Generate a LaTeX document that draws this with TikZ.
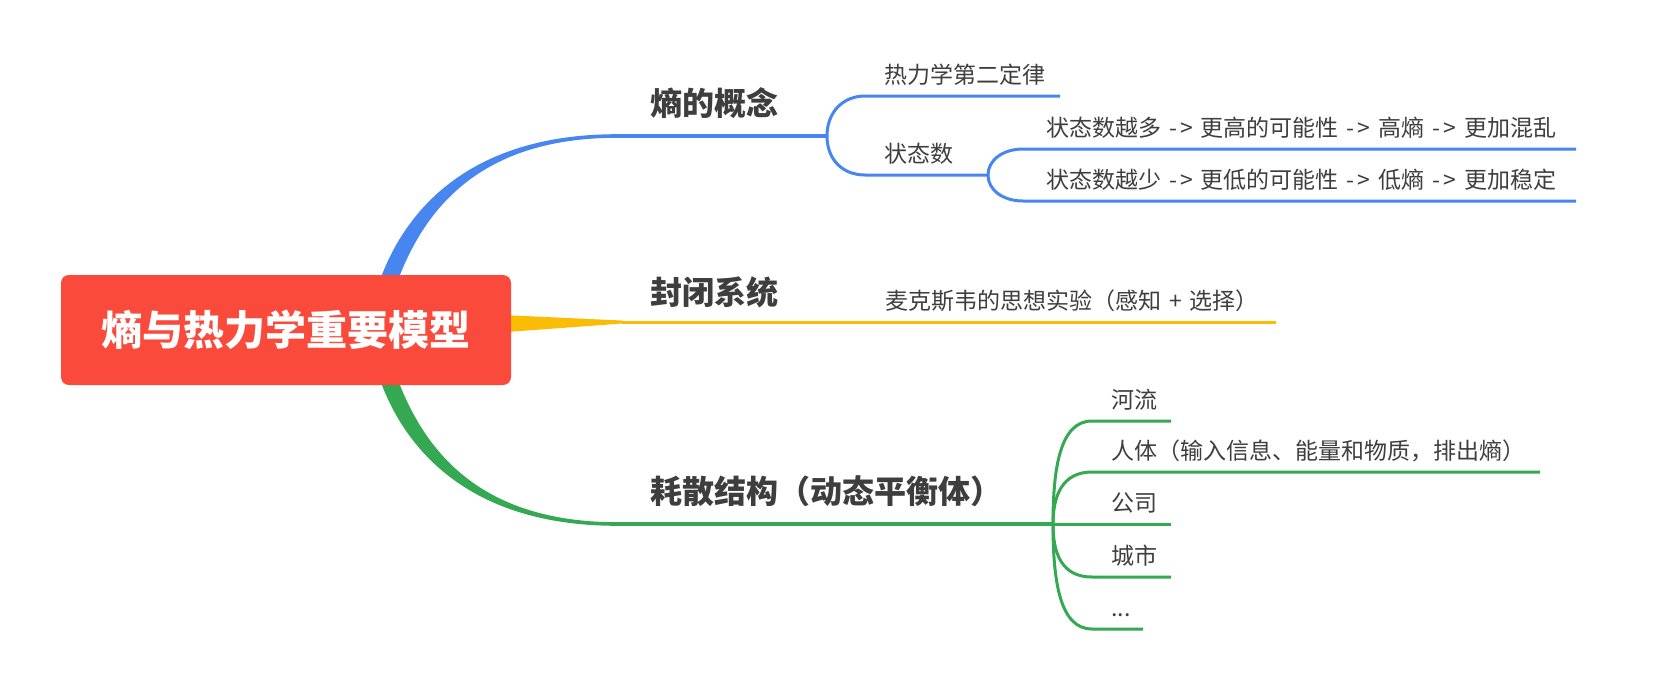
\documentclass[tikz,border=0pt]{standalone}
\usepackage{fontspec}
\setmainfont{Noto Sans CJK SC}
\usepackage{tikz}
\definecolor{rootred}{HTML}{FA4A3C}
\definecolor{mapblue}{HTML}{4786EE}
\definecolor{mapyellow}{HTML}{FBBC05}
\definecolor{mapgreen}{HTML}{34A853}
\definecolor{textgray}{HTML}{3E3E3E}
\newcommand\leafspacing{\spaceskip=8pt\relax}
\newcommand\thento{-\kern3pt>}
\tikzset{root/.style={fill=rootred,rounded corners=8pt,text=white,inner sep=0pt,
minimum width=450pt,minimum height=110pt,font=\bfseries\fontsize{41}{48}\selectfont},
topic/.style={anchor=base west,inner sep=0pt,text=textgray,font=\bfseries\fontsize{32}{38}\selectfont},
leaf/.style={anchor=base west,inner sep=0pt,text=textgray,font=\fontsize{23}{28}\selectfont\leafspacing},
twig/.style={line width=3pt}}

\begin{document}
\begin{tikzpicture}[x=1pt,y=-1pt]
    \useasboundingbox (0,0) rectangle (1654,686);

    % Tapered branches out of the root
    \fill[mapblue] (380,280) .. controls (408,203) and (477,134.2) .. (617,134.2)
        -- (617,137.8) .. controls (480,137.8) and (425,209) .. (398,280) -- cycle;
    \fill[mapyellow] (480,314) -- (622,320.5) -- (622,323.5) -- (480,334) -- cycle;
    \fill[mapgreen] (380,380) .. controls (408,457) and (477,525.8) .. (617,525.8)
        -- (617,522.2) .. controls (480,522.2) and (425,451) .. (398,380) -- cycle;

    % Root
    \node[root] (root) at (286,330) {熵与热力学重要模型};

    % Fork points and line ends
    \coordinate (b0) at (617,136);   \coordinate (bf) at (827,136);
    \coordinate (b1) at (865,96);    \coordinate (b1e) at (1060,96);
    \coordinate (b2) at (865,175);   \coordinate (b2f) at (988,175);
    \coordinate (b21) at (1023,149); \coordinate (b21e) at (1576,149);
    \coordinate (b22) at (1023,201); \coordinate (b22e) at (1576,201);
    \coordinate (y0) at (622,322);   \coordinate (y0e) at (1276,322);
    \coordinate (g0) at (617,524);   \coordinate (gf) at (1053,524);
    \coordinate (g1) at (1092,421);  \coordinate (g1e) at (1171,421);
    \coordinate (g2) at (1092,472);  \coordinate (g2e) at (1540,472);
    \coordinate (g3e) at (1171,524);
    \coordinate (g4) at (1092,577);  \coordinate (g4e) at (1171,577);
    \coordinate (g5) at (1092,629);  \coordinate (g5e) at (1143,629);

    % Entropy concept
    \begin{scope}[twig,mapblue]
    \draw[line width=3.6pt] (b0) -- (bf);
    \draw (bf) .. controls +(0,-24) and +(-22,0) .. (b1) -- (b1e);
    \draw (bf) .. controls +(0,24) and +(-22,0) .. (b2) -- (b2f);
    \draw (b2f) .. controls +(0,-15) and +(-20,0) .. (b21) -- (b21e);
    \draw (b2f) .. controls +(0,15) and +(-20,0) .. (b22) -- (b22e);
    \end{scope}

    % Closed system
    \draw[twig,mapyellow] (y0) -- (y0e);

    % Dissipative structure
    \begin{scope}[twig,mapgreen]
    \draw[line width=3.6pt] (g0) -- (gf);
    \draw (gf) .. controls +(0,-56) and +(-32,0) .. (g1) -- (g1e);
    \draw (gf) .. controls +(0,-28) and +(-30,0) .. (g2) -- (g2e);
    \draw (gf) -- (g3e);
    \draw (gf) .. controls +(0,30) and +(-30,0) .. (g4) -- (g4e);
    \draw (gf) .. controls +(0,58) and +(-32,0) .. (g5) -- (g5e);
    \end{scope}

    % Labels
    \node[topic] (concept) at (650,115) {熵的概念};
    \node[topic] (closed) at (650,304) {封闭系统};
    \node[topic] (dissip) at (650,503) {耗散结构（动态平衡体）};
    \node[leaf] (law) at (884,83) {热力学第二定律};
    \node[leaf] (states) at (884,162) {状态数};
    \node[leaf] (more) at (1046,136) {状态数越多 \thento{} 更高的可能性 \thento{} 高熵 \thento{} 更加混乱};
    \node[leaf] (less) at (1046,188) {状态数越少 \thento{} 更低的可能性 \thento{} 低熵 \thento{} 更加稳定};
    \node[leaf] (maxwell) at (885,309) {麦克斯韦的思想实验（感知 + 选择）};
    \node[leaf] (river) at (1111,408) {河流};
    \node[leaf] (body) at (1111,459) {人体（输入信息、能量和物质，排出熵）};
    \node[leaf] (firm) at (1111,511) {公司};
    \node[leaf] (city) at (1111,564) {城市};
    \node[leaf] (etc) at (1111,616) {...};
\end{tikzpicture}
\end{document}
